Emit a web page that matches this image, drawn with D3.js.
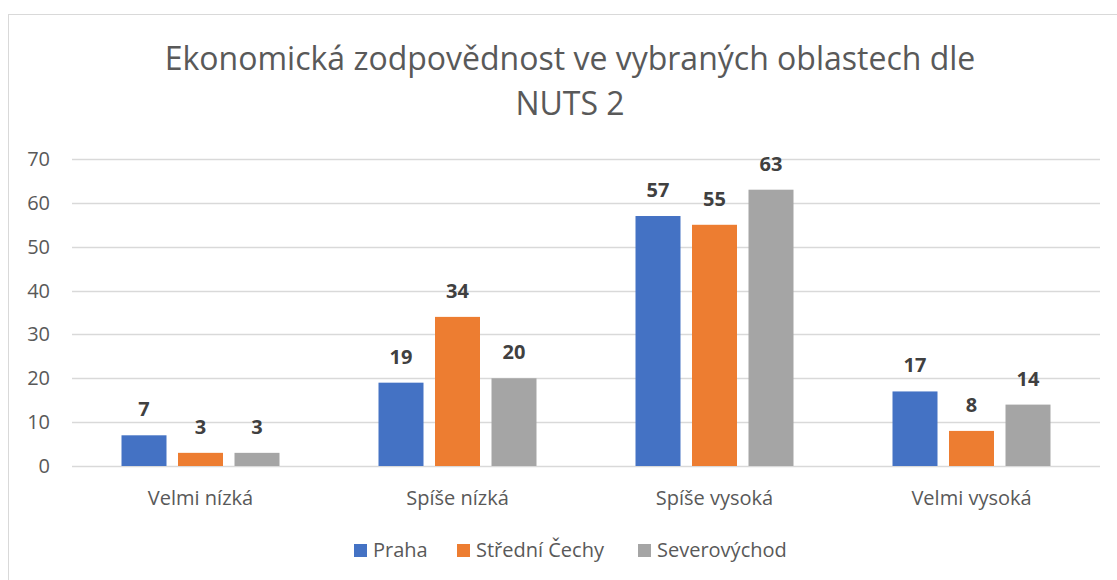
<!DOCTYPE html>
<html>
<head>
<meta charset="utf-8">
<script src="https://cdn.jsdelivr.net/npm/d3@7"></script>
<style>
  body { margin: 0; background: #fff; }
  svg { display: block; font-family: "Open Sans", "Noto Sans", sans-serif; }
</style>
</head>
<body>
<svg id="chart" width="1117" height="580"></svg>
<script>
// data
var categories = ["Velmi nízká", "Spíše nízká", "Spíše vysoká", "Velmi vysoká"];
var seriesNames = ["Praha", "Střední Čechy", "Severovýchod"];
var praha = [7, 19, 57, 17];
var stredniCechy = [3, 34, 55, 8];
var severovychod = [3, 20, 63, 14];
var yTicks = [0, 10, 20, 30, 40, 50, 60, 70];
var colors = ["#4472c4", "#ed7d31", "#a5a5a5"];

var values = [praha, stredniCechy, severovychod];

var svg = d3.select("#chart");

// frame (only left and top edges are visible in the crop)
svg.append("rect")
  .attr("x", 8.5).attr("y", 14.5)
  .attr("width", 1130).attr("height", 600)
  .attr("fill", "none")
  .attr("stroke", "#d9d9d9");

// title
var title = svg.append("text")
  .attr("text-anchor", "middle")
  .attr("fill", "#595959")
  .style("font-size", "32px");
title.append("tspan").attr("x", 570).attr("y", 70).text("Ekonomická zodpovědnost ve vybraných oblastech dle");
title.append("tspan").attr("x", 570).attr("y", 115).text("NUTS 2");

var plotLeft = 72, plotRight = 1100, plotTop = 159, plotBottom = 466;

var x = d3.scaleBand().domain(categories).range([plotLeft, plotRight]);
var y = d3.scaleLinear().domain([0, 70]).range([plotBottom, plotTop]);

var barW = 45, barGap = 11.5;
var groupW = barW * 3 + barGap * 2;

// gridlines
svg.append("g")
  .selectAll("line")
  .data(yTicks)
  .enter()
  .append("line")
  .attr("x1", plotLeft).attr("x2", plotRight)
  .attr("y1", function(d) { return Math.round(y(d)) + 0.5; })
  .attr("y2", function(d) { return Math.round(y(d)) + 0.5; })
  .attr("stroke", "#d9d9d9")
  .attr("stroke-width", 1.3);

// y tick labels
svg.append("g")
  .selectAll("text")
  .data(yTicks)
  .enter()
  .append("text")
  .attr("x", 50)
  .attr("y", function(d) { return y(d) + 7; })
  .attr("text-anchor", "end")
  .attr("fill", "#595959")
  .style("font-size", "20px")
  .text(function(d) { return d; });

// bars + value labels
seriesNames.forEach(function(name, s) {
  var g = svg.append("g").attr("class", "series");
  var offset = function(i) {
    return x(categories[i]) + x.bandwidth() / 2 - groupW / 2 + s * (barW + barGap);
  };
  g.selectAll("rect")
    .data(values[s])
    .enter()
    .append("rect")
    .attr("x", function(d, i) { return offset(i); })
    .attr("y", function(d) { return y(d); })
    .attr("width", barW)
    .attr("height", function(d) { return y(0) - y(d); })
    .attr("fill", colors[s]);

  g.selectAll("text")
    .data(values[s])
    .enter()
    .append("text")
    .attr("x", function(d, i) { return offset(i) + barW / 2; })
    .attr("y", function(d) { return y(d) - 19; })
    .attr("text-anchor", "middle")
    .attr("fill", "#404040")
    .style("font-size", "20px")
    .style("font-weight", "bold")
    .text(function(d) { return d; });
});

// category labels
svg.append("g")
  .selectAll("text")
  .data(categories)
  .enter()
  .append("text")
  .attr("x", function(d) { return x(d) + x.bandwidth() / 2; })
  .attr("y", 505)
  .attr("text-anchor", "middle")
  .attr("fill", "#595959")
  .style("font-size", "20px")
  .text(function(d) { return d; });

// legend
var legendX = [354, 457, 638];
var legend = svg.append("g");
seriesNames.forEach(function(name, s) {
  legend.append("rect")
    .attr("x", legendX[s]).attr("y", 544)
    .attr("width", 13).attr("height", 13)
    .attr("fill", colors[s]);
  legend.append("text")
    .attr("x", legendX[s] + 19).attr("y", 557)
    .attr("fill", "#595959")
    .style("font-size", "20px")
    .text(name);
});
</script>
</body>
</html>
